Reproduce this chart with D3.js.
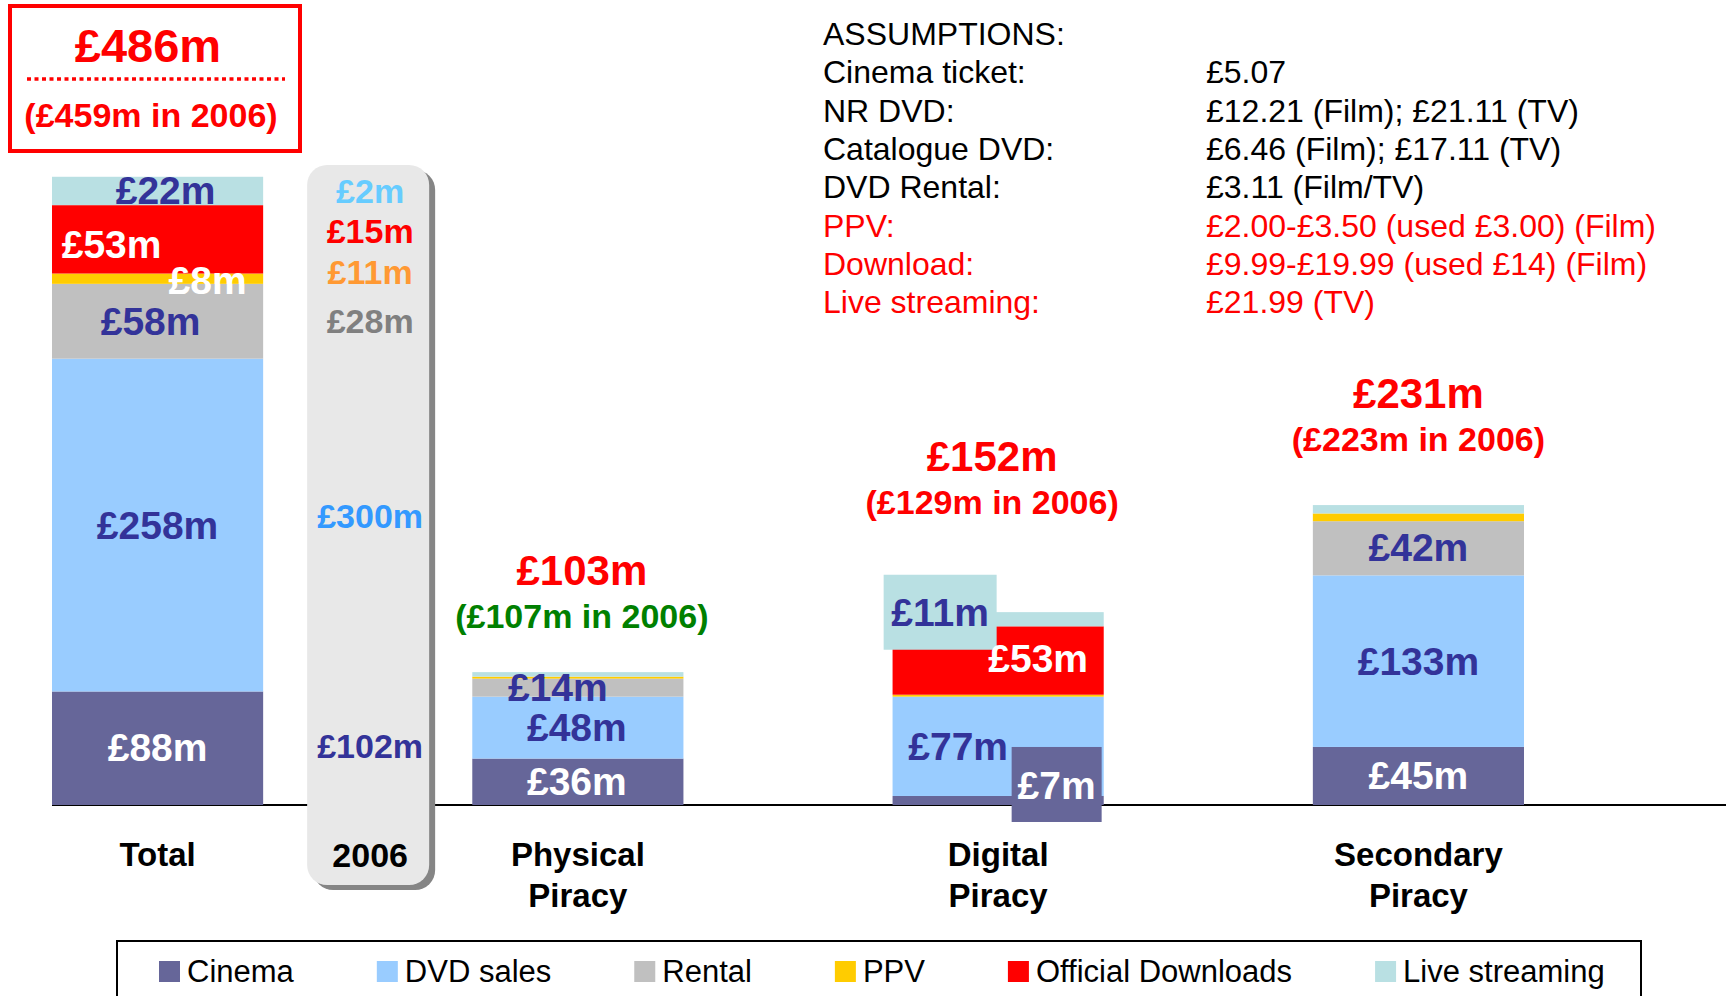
<!DOCTYPE html>
<html>
<head>
<meta charset="utf-8">
<script src="https://cdn.jsdelivr.net/npm/d3@7.9.0/dist/d3.min.js"></script>
<style>
  body { margin: 0; background: #fff; }
  svg { display: block; font-family: "Liberation Sans", Arial, sans-serif; }
</style>
</head>
<body>
<svg id="chart" width="1726" height="996"></svg>
<script>
// categories and stacked series (bottom to top)
const categories = ['Total', 'Physical Piracy', 'Digital Piracy', 'Secondary Piracy'];
const seriesNames = ['Cinema', 'DVD sales', 'Rental', 'PPV', 'Official Downloads', 'Live streaming'];
const cinema = [88, 36, 7, 45];
const dvdSales = [258, 48, 77, 133];
const rental = [58, 14, 0, 42];
const ppv = [8, 1.5, 1.5, 6];
const officialDownloads = [53, 0, 53, 0];
const liveStreaming = [22, 3.5, 11, 6.5];

// headline totals and 2006 comparison
const totals = [486, 103, 152, 231];
const totals2006 = [459, 107, 129, 223];

// 2006 breakdown of the total, same series order
const values2006 = [102, 300, 28, 11, 15, 2];

const assumptionLabels = ['Cinema ticket:', 'NR DVD:', 'Catalogue DVD:', 'DVD Rental:', 'PPV:', 'Download:', 'Live streaming:'];
const assumptionValues = ['£5.07', '£12.21 (Film); £21.11 (TV)', '£6.46 (Film); £17.11 (TV)', '£3.11 (Film/TV)',
  '£2.00-£3.50 (used £3.00) (Film)', '£9.99-£19.99 (used £14) (Film)', '£21.99 (TV)'];

const seriesColors = ['#666699', '#99ccff', '#c0c0c0', '#ffcc00', '#ff0000', '#b9e0e3'];
const colors2006 = ['#333399', '#3399ff', '#808080', '#ff9933', '#ff0000', '#66ccff'];
const navy = '#333399';

const svg = d3.select('#chart');
const W = 1726, H = 996;
const base = 805;

const x = d3.scaleBand().domain(categories).range([52, 1524]).paddingInner(0.4976).paddingOuter(0);
const y = d3.scaleLinear().domain([0, 500]).range([base, base - 645]);
const color = d3.scaleOrdinal().domain(seriesNames).range(seriesColors);
const bw = x.bandwidth();

const rows = categories.map((c, i) => {
  const r = { cat: c };
  [cinema, dvdSales, rental, ppv, officialDownloads, liveStreaming].forEach((arr, k) => r[seriesNames[k]] = arr[i]);
  return r;
});
const stacked = d3.stack().keys(seriesNames)(rows);

// baseline
svg.append('line')
  .attr('x1', x.range()[0]).attr('x2', W)
  .attr('y1', base).attr('y2', base)
  .attr('stroke', '#000').attr('stroke-width', 2);

// bars
svg.append('g').selectAll('g')
  .data(stacked)
  .join('g')
  .attr('fill', d => color(d.key))
  .selectAll('rect')
  .data(d => d)
  .join('rect')
  .attr('x', d => x(d.data.cat))
  .attr('y', d => y(d[1]))
  .attr('width', bw)
  .attr('height', d => y(d[0]) - y(d[1]));

// 2006 column panel
const colX = x('Total') + bw + 44, colW = 122, colTop = 165, colBot = 885;
svg.append('rect').attr('x', colX + 6).attr('y', colTop + 5).attr('width', colW).attr('height', colBot - colTop)
  .attr('rx', 20).attr('fill', '#858585');
svg.append('rect').attr('x', colX).attr('y', colTop).attr('width', colW).attr('height', colBot - colTop)
  .attr('rx', 20).attr('fill', '#e8e8e8');

const colNudge = [-2, -9, 0, -7, -9, 0];
svg.append('g').selectAll('text')
  .data(values2006)
  .join('text')
  .attr('x', colX + colW / 2 + 2)
  .attr('y', (d, k) => y((stacked[k][0][0] + stacked[k][0][1]) / 2) + colNudge[k])
  .attr('dy', '0.36em')
  .attr('text-anchor', 'middle')
  .attr('font-size', 34).attr('font-weight', 'bold')
  .attr('fill', (d, k) => colors2006[k])
  .text(d => `£${d}m`);

svg.append('text').attr('x', colX + colW / 2 + 2).attr('y', 867)
  .attr('text-anchor', 'middle').attr('font-size', 34).attr('font-weight', 'bold')
  .text('2006');

// segment labels
const segLabels = [
  { c: 0, s: 5, dx: 8, dy: -1, fill: navy },
  { c: 0, s: 4, dx: -46, dy: 5, fill: '#fff' },
  { c: 0, s: 3, dx: 50, dy: 1, fill: '#fff' },
  { c: 0, s: 2, dx: -7, dy: 0, fill: navy },
  { c: 0, s: 1, dx: 0, dy: 0, fill: navy },
  { c: 0, s: 0, dx: 0, dy: -1, fill: '#fff' },
  { c: 1, s: 2, dx: -20, dy: -1, fill: navy },
  { c: 1, s: 1, dx: -1, dy: -1, fill: navy },
  { c: 1, s: 0, dx: -1, dy: -1, fill: '#fff' },
  { c: 2, s: 5, dx: -58, dy: -7, fill: navy, box: [113, 75] },
  { c: 2, s: 4, dx: 40, dy: -3, fill: '#fff' },
  { c: 2, s: 1, dx: -40, dy: 0, fill: navy },
  { c: 2, s: 0, dx: 58.5, dy: -16, fill: '#fff', box: [90, 75] },
  { c: 3, s: 2, dx: 0, dy: -1, fill: navy },
  { c: 3, s: 1, dx: 0, dy: 0, fill: navy },
  { c: 3, s: 0, dx: 0, dy: -1, fill: '#fff' }
];
const lab = svg.append('g');
segLabels.forEach(l => {
  const seg = stacked[l.s][l.c];
  const cx = x(categories[l.c]) + bw / 2 + l.dx;
  const cy = y((seg[0] + seg[1]) / 2) + l.dy;
  if (l.box) {
    lab.append('rect')
      .attr('x', cx - l.box[0] / 2).attr('y', cy - l.box[1] / 2)
      .attr('width', l.box[0]).attr('height', l.box[1])
      .attr('fill', seriesColors[l.s]);
  }
  lab.append('text')
    .attr('x', cx).attr('y', cy).attr('dy', '0.36em')
    .attr('text-anchor', 'middle')
    .attr('font-size', 39).attr('font-weight', 'bold')
    .attr('fill', l.fill)
    .text(`£${Math.round(seg[1] - seg[0])}m`);
});

// headline box for Total
const hb = svg.append('g');
hb.append('rect').attr('x', 10).attr('y', 6).attr('width', 290).attr('height', 145)
  .attr('fill', 'none').attr('stroke', '#ff0000').attr('stroke-width', 4);
hb.append('text').attr('x', 148).attr('y', 62).attr('text-anchor', 'middle')
  .attr('font-size', 47).attr('font-weight', 'bold').attr('fill', '#ff0000')
  .text(`£${totals[0]}m`);
hb.append('line').attr('x1', 27).attr('x2', 285).attr('y1', 79).attr('y2', 79)
  .attr('stroke', '#ff0000').attr('stroke-width', 3.5).attr('stroke-dasharray', '4,3.5');
hb.append('text').attr('x', 151).attr('y', 127).attr('text-anchor', 'middle')
  .attr('font-size', 34).attr('font-weight', 'bold').attr('fill', '#ff0000')
  .text(`(£${totals2006[0]}m in 2006)`);

// headlines above the piracy bars
const headLift = [0, 44, 98, 54];
const headDx = [0, 4, -6, 0];
const head2006Color = ['#ff0000', '#008000', '#ff0000', '#ff0000'];
categories.forEach((c, i) => {
  if (i === 0) return;
  const top = y(d3.sum(stacked, s => s[i][1] - s[i][0]));
  const cx = x(c) + bw / 2 + headDx[i];
  svg.append('text').attr('x', cx).attr('y', top - headLift[i] - 43)
    .attr('text-anchor', 'middle').attr('font-size', 42).attr('font-weight', 'bold')
    .attr('fill', '#ff0000').text(`£${totals[i]}m`);
  svg.append('text').attr('x', cx).attr('y', top - headLift[i])
    .attr('text-anchor', 'middle').attr('font-size', 34).attr('font-weight', 'bold')
    .attr('fill', head2006Color[i]).text(`(£${totals2006[i]}m in 2006)`);
});

// category labels
categories.forEach(c => {
  const t = svg.append('text')
    .attr('x', x(c) + bw / 2).attr('y', 866)
    .attr('text-anchor', 'middle').attr('font-size', 33).attr('font-weight', 'bold');
  c.split(' ').forEach((w, k) => {
    t.append('tspan').attr('x', x(c) + bw / 2).attr('dy', k ? 41 : 0).text(w);
  });
});

// assumptions
const asg = svg.append('g').attr('font-size', 32);
asg.append('text').attr('x', 823).attr('y', 45).text('ASSUMPTIONS:');
assumptionLabels.forEach((a, i) => {
  const fill = i >= 4 ? '#ff0000' : '#000';
  const yy = 45 + 38.35 * (i + 1);
  asg.append('text').attr('x', 823).attr('y', yy).attr('fill', fill).text(a);
  asg.append('text').attr('x', 1206).attr('y', yy).attr('fill', fill).text(assumptionValues[i]);
});

// legend
svg.append('rect').attr('x', 117).attr('y', 941).attr('width', 1524).attr('height', 80)
  .attr('fill', 'none').attr('stroke', '#000').attr('stroke-width', 2);
let lx = 159;
seriesNames.forEach((s, k) => {
  svg.append('rect').attr('x', lx).attr('y', 961).attr('width', 21).attr('height', 21).attr('fill', seriesColors[k]);
  const t = svg.append('text').attr('x', lx + 28).attr('y', 982).attr('font-size', 31).text(s);
  lx += 28 + t.node().getComputedTextLength() + 83;
});
</script>
</body>
</html>
